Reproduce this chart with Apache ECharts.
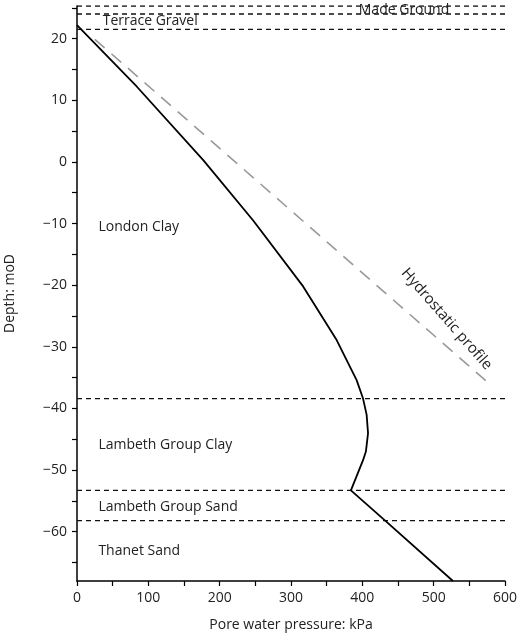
<!DOCTYPE html>
<html><head><meta charset="utf-8">
<script src="https://cdn.jsdelivr.net/npm/echarts@6/dist/echarts.min.js"></script>
<style>html,body{margin:0;padding:0;background:#fff}#c{width:520px;height:642px}</style>
</head><body><div id="c"></div>
<script>
const porePressure = [0, 84, 177, 247, 317, 364, 392, 401, 406, 408, 405, 401, 384, 432, 527];
const poreDepth    = [22.2, 12.2, 0.3, -9.5, -20.2, -28.9, -35.4, -38.4, -41, -44, -47, -48.4, -53.3, -58.2, -68];
const hydroPressure = [25, 580];
const hydroDepth    = [19.9, -36.2];
const layerDepths = [25.3, 24, 21.5, -38.4, -53.3, -58.2];
const layerNames = [
  {name:'Made Ground', x:395, y:24.6},
  {name:'Terrace Gravel', x:36, y:22.8},
  {name:'London Clay', x:30, y:-10.5},
  {name:'Lambeth Group Clay', x:30, y:-46},
  {name:'Lambeth Group Sand', x:30, y:-56},
  {name:'Thanet Sand', x:30, y:-63.2}
];
const yLabels = [20,10,0,-10,-20,-30,-40,-50,-60];
const yTicks = [25,20,15,10,5,0,-5,-10,-15,-20,-25,-30,-35,-40,-45,-50,-55,-60,-65];
const xLabels = [0,100,200,300,400,500,600];
const xTicks = [0,50,100,150,200,250,300,350,400,450,500,550,600];

const font = 'Open Sans';
const chart = echarts.init(document.getElementById('c'));
const series = [];
layerDepths.forEach(d => series.push({type:'line', data:[[0,d],[612,d]], symbol:'none', silent:true,
  lineStyle:{color:'#111', width:1.4, type:[5,4]}, z:1}));
series.push({type:'line', data:hydroPressure.map((p,i)=>[p,hydroDepth[i]]), symbol:'none',
  lineStyle:{color:'#999', width:1.6, type:[13,9]}, z:2});
series.push({type:'line', data:porePressure.map((p,i)=>[p,poreDepth[i]]), symbol:'none',
  lineStyle:{color:'#000', width:1.8}, z:3});
chart.setOption({
  animation:false,
  grid:{left:77, right:15, top:6, bottom:61, containLabel:false, outerBoundsMode:'none'},
  xAxis:{type:'value', min:0, max:600,
    name:'Pore water pressure: kPa', nameLocation:'middle', nameGap:37,
    nameTextStyle:{fontFamily:font, fontSize:14, color:'#222'},
    axisLine:{show:true, onZero:false, lineStyle:{color:'#000', width:1.5}},
    axisTick:{show:true, inside:false, length:5, customValues:xTicks, lineStyle:{color:'#000', width:1.2}},
    axisLabel:{customValues:xLabels, fontFamily:font, fontSize:14, color:'#222', margin:10},
    splitLine:{show:false}},
  yAxis:{type:'value', min:-68, max:25.3,
    name:'Depth: moD', nameLocation:'middle', nameGap:60, nameRotate:90,
    nameTextStyle:{fontFamily:font, fontSize:14, color:'#222'},
    axisLine:{show:true, onZero:false, lineStyle:{color:'#000', width:1.5}},
    axisTick:{show:true, length:5, customValues:yTicks, lineStyle:{color:'#000', width:1.2}},
    axisLabel:{customValues:yLabels, fontFamily:font, fontSize:14, color:'#222', margin:10,
      formatter:v=> v<0 ? '\u2212'+Math.abs(v) : String(v)},
    splitLine:{show:false}},
  series
});
const g = layerNames.map(l => {
  const p = chart.convertToPixel({gridIndex:0}, [l.x, l.y]);
  return {type:'text', x:p[0], y:p[1], style:{text:l.name, fontFamily:font, fontSize:14, fill:'#222', textVerticalAlign:'middle'}, z:10};
});
const hp = chart.convertToPixel({gridIndex:0}, [518, -25.5]);
g.push({type:'text', x:hp[0], y:hp[1], rotation:-0.85, style:{text:'Hydrostatic profile', fontFamily:font, fontSize:15, fill:'#222', textAlign:'center', textVerticalAlign:'middle'}, z:10});
chart.setOption({graphic:g});
</script></body></html>
